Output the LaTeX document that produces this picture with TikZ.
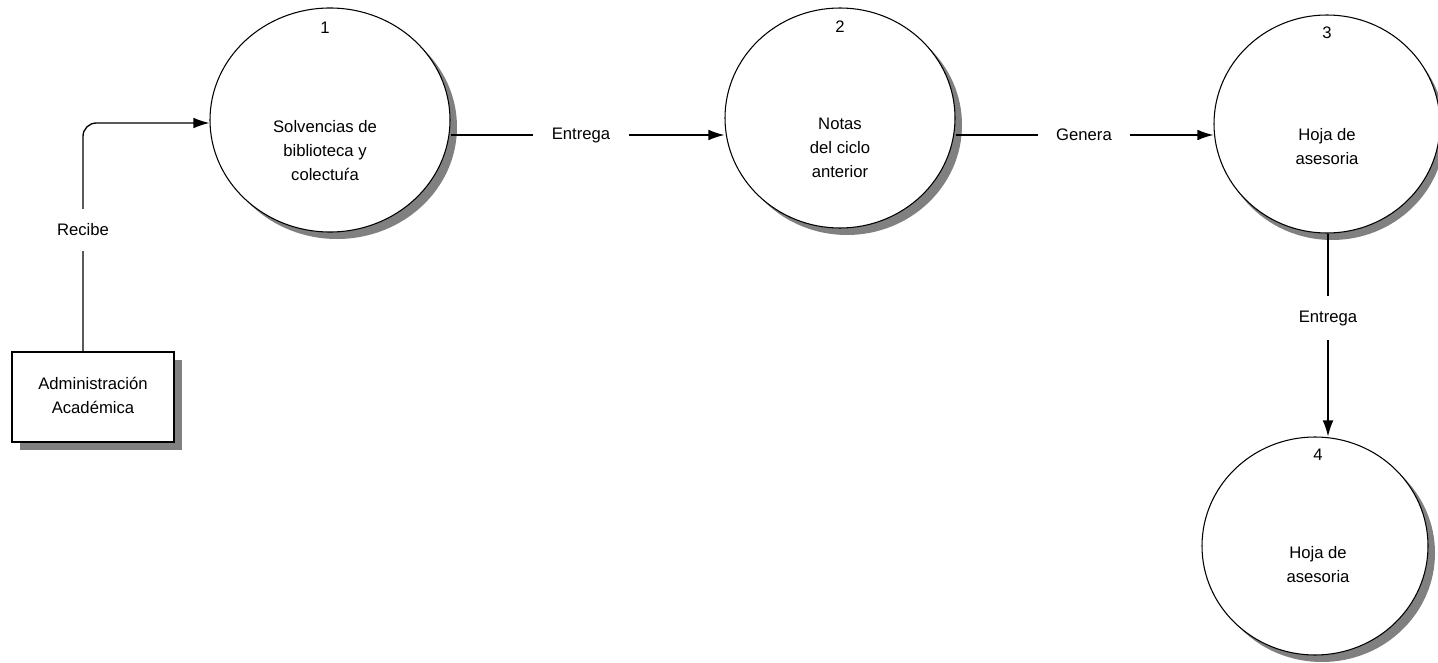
\documentclass[tikz,border=0pt]{standalone}
\usepackage{fontspec}
\setmainfont{Liberation Sans}
\usetikzlibrary{arrows.meta,shapes.geometric}
\begin{document}
\begin{tikzpicture}[x=0.75pt,y=-0.75pt,
  proc/.style={ellipse, draw=black, line width=0.8pt, fill=white, inner sep=0pt},
  shd/.style={ellipse, fill=black!50, draw=none, inner sep=0pt},
  ext/.style={rectangle, draw=black, line width=0.9pt, fill=white, minimum width=121.5pt, minimum height=67.5pt, inner sep=0pt},
  lbl/.style={font=\fontsize{12.5}{18}\selectfont, align=center, inner sep=1pt},
  elbl/.style={lbl, fill=white, inner xsep=14pt, inner ysep=11pt},
  flow/.style={line width=1pt, -{Latex[length=12pt,width=8pt]}},
  plain/.style={line width=1pt}]
\useasboundingbox (0,0) rectangle (1438,663);
% shadows
\node[shd, minimum width=180pt, minimum height=168pt] (s1) at (337,127) {};
\node[shd, minimum width=172.5pt, minimum height=165pt] (s2) at (847,125) {};
\node[shd, minimum width=169.5pt, minimum height=163.5pt] (s3) at (1332,131) {};
\node[shd, minimum width=169.5pt, minimum height=163.5pt] (s4) at (1322,553) {};
\node[rectangle, fill=black!50, minimum width=121.5pt, minimum height=67.5pt, inner sep=0pt] (sb) at (101,405) {};
% processes
\node[proc, minimum width=180pt, minimum height=168pt] (c1) at (330,120) {};
\node[proc, minimum width=172.5pt, minimum height=165pt] (c2) at (840,118) {};
\node[proc, minimum width=169.5pt, minimum height=163.5pt] (c3) at (1327,124) {};
\node[proc, minimum width=169.5pt, minimum height=163.5pt] (c4) at (1315,546) {};
\node[ext] (box) at (93,397) {};
% numbers
\node[lbl] (n1) at (325,28) {1};
\node[lbl] (n2) at (840,27) {2};
\node[lbl] (n3) at (1327,33) {3};
\node[lbl] (n4) at (1318,455) {4};
% texts
\node[lbl] (t1) at (325,151) {Solvencias de\\biblioteca y\\colectuŕa};
\node[lbl] (t2) at (840,148) {Notas\\del ciclo\\anterior};
\node[lbl] (t3) at (1327,147) {Hoja de\\asesoria};
\node[lbl] (t4) at (1318,565) {Hoja de\\asesoria};
\node[lbl] (tb) at (93,395) {Administración\\Académica};
% connectors
\coordinate (k1) at (83,123);
\draw[flow, rounded corners=10pt] (box.north -| k1) -- (k1) -- (c1.west |- k1);
\node[elbl] (l1) at (83,230) {Recibe};
\coordinate (y1) at (0,135);
\draw[flow] (c1.east |- y1) -- (c2.west |- y1);
\node[elbl] (l2) at (581,135) {Entrega};
\draw[flow] (c2.east |- y1) -- (c3.west |- y1);
\node[elbl] (l3) at (1084,135) {Genera};
\coordinate (x3) at (1328,0);
\draw[flow] (c3.south -| x3) -- (c4.north -| x3);
\node[elbl] (l4) at (1328,318) {Entrega};
\end{tikzpicture}
\end{document}
